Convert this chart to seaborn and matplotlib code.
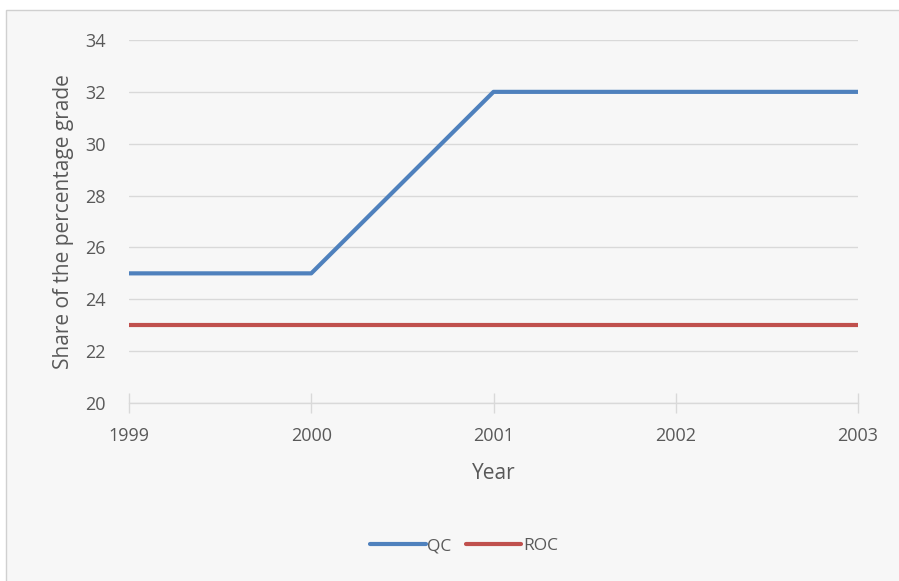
import matplotlib
matplotlib.use("Agg")
import matplotlib.pyplot as plt
import seaborn as sns
import pandas as pd
from matplotlib.patches import Rectangle

years = [1999, 2000, 2001, 2002, 2003]
qc = [25, 25, 32, 32, 32]
roc = [23, 23, 23, 23, 23]
series_names = ["QC", "ROC"]
y_ticks = [20, 22, 24, 26, 28, 30, 32, 34]

df = pd.DataFrame({
    "Year": years * 2,
    "Value": qc + roc,
    "Series": [series_names[0]] * len(years) + [series_names[1]] * len(years),
})

sns.set_theme(style="white")
plt.rcParams["font.family"] = ["Open Sans", "DejaVu Sans"]

text_color = "#595959"
grid_color = "#d9d9d9"
bg = "#f7f7f7"

fig = plt.figure(figsize=(8.99, 5.81), dpi=100)
fig.patch.set_facecolor("white")
fig.patches.append(Rectangle((6 / 899, -0.05), 1.05, 1.05 - 10 / 581, transform=fig.transFigure,
                             facecolor=bg, edgecolor="#d0d0d0", linewidth=1.0, zorder=-10))

ax = fig.add_axes([129 / 899, 1 - 403 / 581, (858 - 129) / 899, (403 - 40) / 581])
ax.patch.set_alpha(0)

sns.lineplot(data=df, x="Year", y="Value", hue="Series", ax=ax,
             palette=["#4F81BD", "#C0504D"], linewidth=3.0, legend=True)

ax.set_xlim(years[0], years[-1])
ax.set_ylim(y_ticks[0], y_ticks[-1])
ax.set_yticks(y_ticks)
ax.set_xticks(years)
ax.set_xticklabels([str(y) for y in years])
ax.grid(axis="y", color=grid_color, linewidth=1.0)
ax.set_axisbelow(True)
for s in ["top", "right", "left"]:
    ax.spines[s].set_visible(False)
ax.spines["bottom"].set_color(grid_color)
ax.spines["bottom"].set_linewidth(1.0)
ax.tick_params(axis="x", bottom=True, direction="inout", length=14, width=1, color=grid_color,
               labelsize=13, labelcolor=text_color, pad=10)
ax.tick_params(axis="y", left=False, length=0, labelsize=13, labelcolor=text_color, pad=17)

ax.set_xlabel("Year", fontsize=15, color=text_color, labelpad=13)
ax.set_ylabel("Share of the percentage grade", fontsize=15, color=text_color, labelpad=8)

handles, labels = ax.get_legend_handles_labels()
ax.legend(handles, labels, loc="center", bbox_to_anchor=(464 / 899, 1 - 546 / 581),
          bbox_transform=fig.transFigure, ncol=2, frameon=False, fontsize=12.5,
          handlelength=3.2, handletextpad=0.1, columnspacing=0.8,
          labelcolor=text_color)

fig.savefig("out.png", dpi=100)
